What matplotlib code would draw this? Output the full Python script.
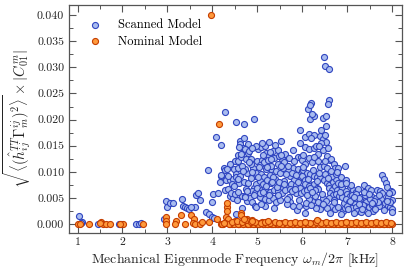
import matplotlib
matplotlib.use("Agg")
import matplotlib.pyplot as plt
import numpy as np

# ---- data (frequency in kHz, amplitude in units of 1e-3) ----
scanned_freq = [
    1.04, 1.10, 1.07, 1.46, 1.93, 1.97, 2.31, 2.36, 2.41,
    2.92, 2.96, 2.99, 3.05, 3.12, 3.32, 3.35, 3.40, 3.44, 3.47, 3.61, 3.63, 3.68, 3.73, 3.86, 3.90,
    3.98, 3.93, 4.00, 4.02, 4.12, 4.16, 4.19, 4.18, 4.07, 4.27, 4.26, 3.52, 4.03,
    4.52, 4.70, 4.92, 4.62, 4.61, 4.79, 4.68, 4.72, 4.79, 4.57, 4.50, 4.56, 4.64, 4.75, 4.85, 4.60,
    4.40, 4.48, 4.52, 4.20, 4.30, 4.38, 4.45, 4.27, 4.34, 4.38, 4.46, 4.55, 4.66, 4.66, 4.53, 4.53,
    4.62, 4.76, 4.60, 4.70, 4.80, 4.72, 4.78, 4.83, 4.92, 4.98, 4.28, 4.33, 4.42, 4.50, 4.58, 4.90,
    4.56, 4.73, 4.95, 4.85, 4.74, 4.88, 4.95, 4.87, 4.95, 4.98, 4.73, 4.86, 4.66, 4.44, 4.35, 4.82, 4.70,
    5.01, 5.07, 5.18, 5.35, 5.46, 5.53, 4.98, 5.10, 5.25, 5.40, 5.90, 5.98, 5.00, 5.10, 5.20, 5.25,
    5.38, 5.45, 5.55, 5.60, 5.80, 5.90, 6.00, 6.00, 5.05, 5.15, 5.23, 4.97, 5.08, 5.15, 5.27, 5.30,
    5.42, 5.50, 5.68, 5.72, 5.82, 5.97, 5.05, 5.13, 5.22, 5.30, 5.40, 5.50, 5.57, 5.65, 5.75, 5.85,
    5.95, 5.00, 5.10, 5.18, 5.28, 5.38, 5.45, 5.55, 5.62, 5.72, 5.85, 5.97, 5.05, 5.16, 5.25, 5.35,
    5.42, 5.50, 5.16, 5.70, 5.72, 5.80, 5.88, 5.65, 5.92, 5.35, 5.60, 5.90, 5.78, 5.48, 5.62, 5.70,
    5.82, 5.94, 5.30, 5.58, 5.20, 5.13, 5.45, 5.25, 5.06,
    6.48, 6.50, 6.59, 6.12, 6.19, 6.17, 6.59, 6.57, 6.18, 6.27, 6.22, 6.47, 6.53, 6.53, 6.06, 6.15,
    6.27, 6.20, 6.39, 6.45, 6.53, 6.42, 6.50, 5.95, 6.05, 6.15, 6.25, 6.30, 6.35, 6.45, 6.55, 6.62,
    6.02, 6.05, 6.15, 6.22, 6.64, 6.70, 6.72, 6.80, 6.40, 6.48, 6.55, 6.02, 6.10, 6.18, 6.25, 6.32,
    6.00, 6.05, 6.12, 6.40, 6.48, 6.55, 6.60, 6.68, 6.75, 6.85, 6.05, 6.15, 6.25, 6.32, 6.35, 6.28,
    6.60, 6.65, 6.72, 6.78, 6.88, 6.03, 6.10, 6.18, 6.62, 6.68, 6.75, 6.82, 6.88, 6.60, 6.40, 6.22,
    6.28, 6.15, 6.10, 6.35, 6.45, 6.52, 6.65, 6.72, 6.80, 6.90, 6.95, 6.55, 6.08, 6.30, 6.92, 6.50,
    6.80, 6.94, 6.98, 6.35, 6.25, 6.58, 6.42, 6.65, 6.05, 6.85, 6.62,
    7.77, 7.81, 7.85, 7.89, 7.98, 7.38, 7.45, 7.52, 7.65, 7.72, 7.78, 7.05, 7.12, 7.20, 7.24, 6.96,
    7.00, 7.05, 7.10, 7.20, 7.30, 7.40, 7.53, 7.63, 7.75, 7.90, 7.84, 7.90, 7.95, 8.00, 6.97, 7.03,
    7.10, 7.18, 7.28, 7.35, 7.42, 7.40, 7.48, 7.55, 7.62, 7.70, 7.00, 7.10, 7.20, 7.30, 7.35, 7.22,
    7.30, 7.58, 7.62, 8.00, 8.00, 8.00, 7.95, 7.68, 7.45, 7.15, 7.82, 7.50, 7.25, 7.92, 7.08,
    4.47, 4.58, 4.67, 4.77, 4.89, 5.03, 5.12, 5.21, 5.33, 5.44, 5.52, 5.64, 5.77, 5.87, 4.63, 4.81,
    4.93, 5.02, 5.19, 5.31, 5.48, 5.59, 5.69, 5.84, 6.01, 6.13, 6.24, 6.37, 6.50, 6.63, 6.74, 6.87,
    6.09, 6.21, 6.33, 6.44, 6.57, 6.70, 6.83, 6.96, 7.06, 7.16, 7.27, 7.38, 7.49, 7.60, 7.71, 7.88,
    5.08, 5.36, 5.66, 5.92, 6.20, 6.45, 6.70, 7.02, 7.33, 7.56, 4.89, 5.27, 5.53, 5.80, 6.38, 6.77,
]
scanned_amp = [
    1.6, 0.4, 0.2, 0.1, 0.1, 0.1, 0.1, 0.1, 0.2,
    0.9, 4.5, 3.3, 4.1, 4.1, 4.9, 3.4, 3.2, 3.0, 2.9, 3.3, 5.5, 6.0, 4.7, 2.4, 10.3,
    4.3, 1.9, 1.4, 5.7, 6.0, 8.1, 15.1, 9.2, 16.7, 21.5, 10.7, 3.2, 1.1,
    19.6, 19.1, 20.2, 15.9, 15.4, 15.4, 14.5, 14.4, 13.6, 13.2, 12.1, 12.0, 12.8, 12.4, 12.4, 14.8,
    11.5, 10.5, 9.5, 9.4, 8.4, 8.4, 8.6, 6.6, 6.8, 5.4, 5.0, 4.7, 5.4, 3.0, 1.9, 9.0,
    9.3, 9.7, 7.8, 8.1, 7.9, 5.3, 4.5, 5.0, 7.0, 7.6, 10.4, 10.6, 6.0, 5.8, 6.2, 10.7,
    10.7, 10.6, 9.3, 8.8, 6.8, 6.3, 6.0, 4.2, 3.4, 3.3, 5.1, 11.5, 11.2, 7.6, 9.2, 14.0, 16.5,
    14.3, 14.8, 14.9, 14.0, 14.2, 15.9, 15.0, 15.5, 15.7, 15.2, 12.8, 12.9, 12.0, 12.3, 13.6, 13.0,
    12.7, 11.5, 12.4, 11.8, 10.8, 10.5, 12.3, 10.2, 11.3, 11.8, 12.2, 9.8, 9.5, 9.0, 9.4, 10.6,
    10.2, 9.8, 10.4, 9.2, 8.5, 9.0, 8.3, 7.7, 8.5, 7.8, 8.7, 7.4, 6.9, 7.3, 7.7, 7.5,
    7.0, 7.0, 6.5, 6.8, 6.1, 6.6, 6.4, 6.0, 6.5, 6.7, 6.0, 5.9, 5.2, 4.8, 4.6, 5.0,
    4.2, 4.6, 3.4, 5.2, 4.3, 3.4, 2.7, 3.8, 4.6, 9.0, 8.2, 8.0, 9.8, 13.0, 13.5, 12.6,
    12.1, 18.1, 11.2, 10.8, 10.5, 13.2, 5.5, 5.6, 6.0,
    32.0, 30.2, 29.6, 22.1, 23.2, 22.8, 23.7, 22.9, 20.1, 20.6, 21.0, 20.3, 20.7, 18.8, 16.7, 17.2,
    17.0, 16.4, 16.8, 16.3, 15.8, 15.6, 17.0, 15.5, 14.8, 14.3, 14.5, 15.0, 13.5, 14.2, 13.0, 12.3,
    13.2, 11.5, 12.6, 11.9, 12.4, 11.5, 10.8, 10.7, 11.0, 11.2, 10.7, 10.4, 9.8, 9.6, 9.2, 9.0,
    9.3, 8.4, 7.9, 8.8, 8.5, 7.9, 7.5, 8.1, 8.7, 9.0, 7.7, 7.3, 7.6, 7.0, 6.7, 6.6,
    7.0, 6.5, 7.2, 6.6, 6.9, 6.3, 6.6, 7.0, 6.0, 5.5, 5.8, 5.3, 5.1, 5.0, 2.8, 4.5,
    5.3, 4.9, 5.6, 4.2, 5.0, 4.4, 3.4, 2.9, 3.2, 2.6, 3.0, 3.1, 3.5, 3.0, 4.0, 9.6,
    7.8, 11.1, 8.4, 12.0, 12.9, 14.6, 18.0, 9.2, 2.2, 1.9, 2.1,
    9.4, 8.6, 7.9, 7.1, 6.4, 7.5, 7.0, 6.6, 6.6, 6.3, 6.0, 6.9, 6.5, 6.2, 6.8, 6.3,
    5.8, 5.4, 5.6, 5.8, 5.2, 5.5, 5.4, 5.0, 4.8, 5.2, 4.0, 3.5, 3.2, 2.9, 4.8, 4.3,
    4.0, 3.8, 4.5, 3.9, 4.3, 3.5, 3.2, 3.7, 3.0, 3.4, 3.5, 3.1, 3.3, 3.0, 3.6, 2.6,
    2.4, 2.6, 2.9, 6.2, 4.6, 2.4, 4.3, 4.2, 2.2, 2.2, 2.7, 4.8, 5.0, 6.0, 7.4,
    7.2, 8.7, 10.1, 6.4, 9.9, 10.9, 6.2, 11.0, 8.1, 7.1, 11.2, 9.6, 6.3, 9.4, 13.5, 11.9,
    5.6, 9.1, 7.3, 12.4, 8.1, 7.7, 11.1, 6.8, 11.0, 8.6, 10.3, 9.8, 12.1, 10.1, 9.6, 7.6,
    4.1, 6.2, 8.2, 5.8, 8.9, 4.6, 6.1, 7.8, 4.4, 5.1, 3.9, 6.1, 5.7, 4.5, 5.5, 4.5,
    3.9, 3.1, 4.9, 3.5, 3.6, 3.8, 4.3, 2.9, 2.8, 4.1, 14.6, 13.8, 13.3, 14.1, 14.9, 10.0,
]

nominal_freq = [
    1.00, 1.05, 1.26, 1.53, 1.57, 1.64, 1.72, 2.01, 2.46, 1.50, 1.95,
    2.96, 2.96, 2.96, 3.18, 3.17, 3.31, 3.40, 3.53, 3.58, 3.56, 3.61, 3.72, 3.76, 3.93, 3.96,
    4.10, 4.15, 4.31, 4.32, 4.32, 4.33, 4.30, 4.35, 4.64, 4.64, 4.78, 4.50,
    4.20, 4.24, 4.27, 4.38, 4.41, 4.44, 4.47, 4.53, 4.56, 4.60, 4.62, 4.67, 4.70, 4.73, 4.76, 4.81,
    4.84, 4.87, 4.90, 4.93, 4.97, 5.00, 5.03, 5.06, 5.10, 5.13, 5.16, 5.19, 5.23, 5.26, 5.30, 5.33,
    5.36, 5.40, 5.43, 5.47, 5.50, 5.53, 5.57, 5.60, 5.63, 5.67, 5.70, 5.74, 5.77, 5.80, 5.84, 5.87,
    5.90, 5.94, 5.97, 6.00, 6.04, 6.07, 6.11, 6.14, 6.18, 6.21, 6.25, 6.28, 6.32, 6.35, 6.39, 6.42,
    6.46, 6.49, 6.53, 6.56, 6.60, 6.63, 6.67, 6.70, 6.74, 6.77, 6.81, 6.84, 6.88, 6.91, 6.95, 6.98,
    7.02, 7.05, 7.09, 7.12, 7.16, 7.19, 7.23, 7.26, 7.30, 7.33, 7.37, 7.40, 7.44, 7.47, 7.51, 7.54,
    7.58, 7.61, 7.65, 7.68, 7.72, 7.75, 7.79, 7.82, 7.86, 7.89, 7.93, 7.96, 8.00,
    4.22, 4.36, 4.49, 4.58, 4.69, 4.80, 4.91, 5.02, 5.12, 5.21, 5.35, 5.45, 5.55, 5.66, 5.78, 5.89,
    6.02, 6.13, 6.24, 6.36, 6.47, 6.58, 6.69, 6.80, 6.93, 7.04, 7.14, 7.25, 7.36, 7.46, 7.57, 7.70,
    7.81, 7.92,
    4.26, 4.43, 4.55, 4.65, 4.74, 4.86, 4.95, 5.08, 5.17, 5.28, 5.39, 5.49, 5.61, 5.72, 5.83, 5.95,
    6.06, 6.17, 6.30, 6.41, 6.52, 6.63, 6.75, 6.86, 6.97, 7.08, 7.20, 7.31, 7.42, 7.52, 7.63, 7.74,
    7.85, 7.97, 6.33, 4.70, 4.88, 5.24, 6.05, 6.97,
]
nominal_amp = [
    0.1, 0.0, 0.0, 0.5, 0.1, 0.0, 0.0, 0.0, 0.0, 0.2, 0.0,
    1.3, 0.6, 0.1, 0.6, 0.1, 1.7, 0.0, 1.7, 1.0, 0.3, 0.1, 0.1, 0.4, 0.5, 40.0,
    0.9, 19.1, 1.4, 3.3, 4.0, 2.6, 0.4, 0.9, 2.2, 1.8, 0.9, 0.6,
    0.1, 0.0, 0.2, 0.1, 0.3, 0.0, 0.2, 0.4, 0.1, 0.0, 0.3, 0.1, 0.2, 0.5, 0.0, 0.2,
    0.1, 0.8, 0.3, 0.0, 0.2, 0.1, 0.0, 0.3, 0.4, 0.1, 0.0, 0.2, 0.1, 0.3, 0.0, 0.1,
    0.2, 0.0, 0.1, 0.3, 0.0, 0.2, 0.1, 0.0, 0.2, 0.1, 0.0, 0.3, 0.1, 0.0, 0.2, 0.1,
    0.0, 0.2, 0.1, 0.0, 0.3, 0.1, 0.0, 0.2, 0.1, 0.0, 0.2, 0.1, 0.4, 0.6, 0.1, 0.0,
    0.2, 0.1, 0.0, 0.3, 0.1, 0.0, 0.2, 0.1, 0.0, 0.2, 0.1, 0.0, 0.3, 0.1, 0.0, 0.2,
    0.1, 0.3, 0.0, 0.2, 0.1, 0.0, 0.2, 0.1, 0.0, 0.3, 0.1, 0.0, 0.2, 0.1, 0.0, 0.2,
    0.1, 0.0, 0.2, 0.1, 0.0, 0.3, 0.1, 0.0, 0.2, 0.1, 0.0, 0.2, 0.1,
    0.0, 0.1, 0.0, 0.1, 0.0, 0.1, 0.0, 0.1, 0.0, 0.1, 0.0, 0.1, 0.0, 0.1, 0.0, 0.1,
    0.0, 0.1, 0.0, 0.1, 0.0, 0.1, 0.0, 0.1, 0.0, 0.1, 0.0, 0.1, 0.0, 0.1, 0.0, 0.1,
    0.0, 0.1,
    0.3, 0.5, 0.6, 0.4, 0.7, 0.5, 0.4, 0.3, 0.5, 0.3, 0.4, 0.3, 0.4, 0.3, 0.4, 0.3,
    0.4, 0.3, 0.4, 0.3, 0.4, 0.3, 0.4, 0.3, 0.4, 0.3, 0.4, 0.3, 0.4, 0.3, 0.4, 0.3,
    0.4, 0.3, 0.8, 1.0, 0.6, 0.6, 0.5, 0.5,
]

x_ticks = [1, 2, 3, 4, 5, 6, 7, 8]
y_ticks = [0.000, 0.005, 0.010, 0.015, 0.020, 0.025, 0.030, 0.035, 0.040]

# ---- style ----
plt.rcParams['font.family'] = ['cmr10', 'DejaVu Serif']
plt.rcParams['mathtext.fontset'] = 'cm'
plt.rcParams['axes.formatter.use_mathtext'] = True
plt.rcParams['axes.unicode_minus'] = False

fig = plt.figure(figsize=(4.07, 2.73), dpi=100)
ax = fig.add_axes([0.1695, 0.1465, 0.8175, 0.8365])

sf = np.array(scanned_freq)
sa = np.array(scanned_amp) * 1e-3
nf = np.array(nominal_freq)
na = np.array(nominal_amp) * 1e-3

ax.scatter(sf, sa, s=19, facecolor='#a9bcef', edgecolor='#2f45c0', linewidth=0.8,
           label='Scanned Model', zorder=2)
ax.scatter(nf, na, s=19, facecolor='#ff9a3c', edgecolor='#c43d00', linewidth=0.8,
           label='Nominal Model', zorder=3)

ax.set_xticks(x_ticks)
ax.set_xticklabels([str(t) for t in x_ticks])
ax.set_yticks(y_ticks)
ax.set_yticklabels([f"{t:.3f}" for t in y_ticks])
ax.set_xticks(np.arange(0.5, 8.6, 0.5), minor=True)
ax.set_yticks(np.arange(0.0, 0.0426, 0.0025), minor=True)
ax.set_xlim(0.81, 8.21)
ax.set_ylim(-0.0017, 0.042)

ax.tick_params(which='both', direction='in', top=True, right=True, colors='#555555',
               labelcolor='#222222', labelsize=8.5)
ax.tick_params(which='major', length=5, width=0.8)
ax.tick_params(which='minor', length=2.6, width=0.7)
for sp in ax.spines.values():
    sp.set_color('#555555')
    sp.set_linewidth(0.9)

ax.set_xlabel(r'Mechanical Eigenmode Frequency $\omega_m/2\pi$ [kHz]', fontsize=10,
              color='#222222', labelpad=2)
ax.set_ylabel(r'$\sqrt{\langle(\hat{h}_{ij}^{TT}\Gamma_m^{ij})^2\rangle}\times|C_{01}^m|$',
              fontsize=10.5, color='#222222', labelpad=3)

ax.legend(loc='upper left', frameon=False, fontsize=9, handletextpad=0.8,
          borderaxespad=0.3, labelspacing=0.35, bbox_to_anchor=(0.015, 0.975))

fig.savefig('out.png', dpi=100)
